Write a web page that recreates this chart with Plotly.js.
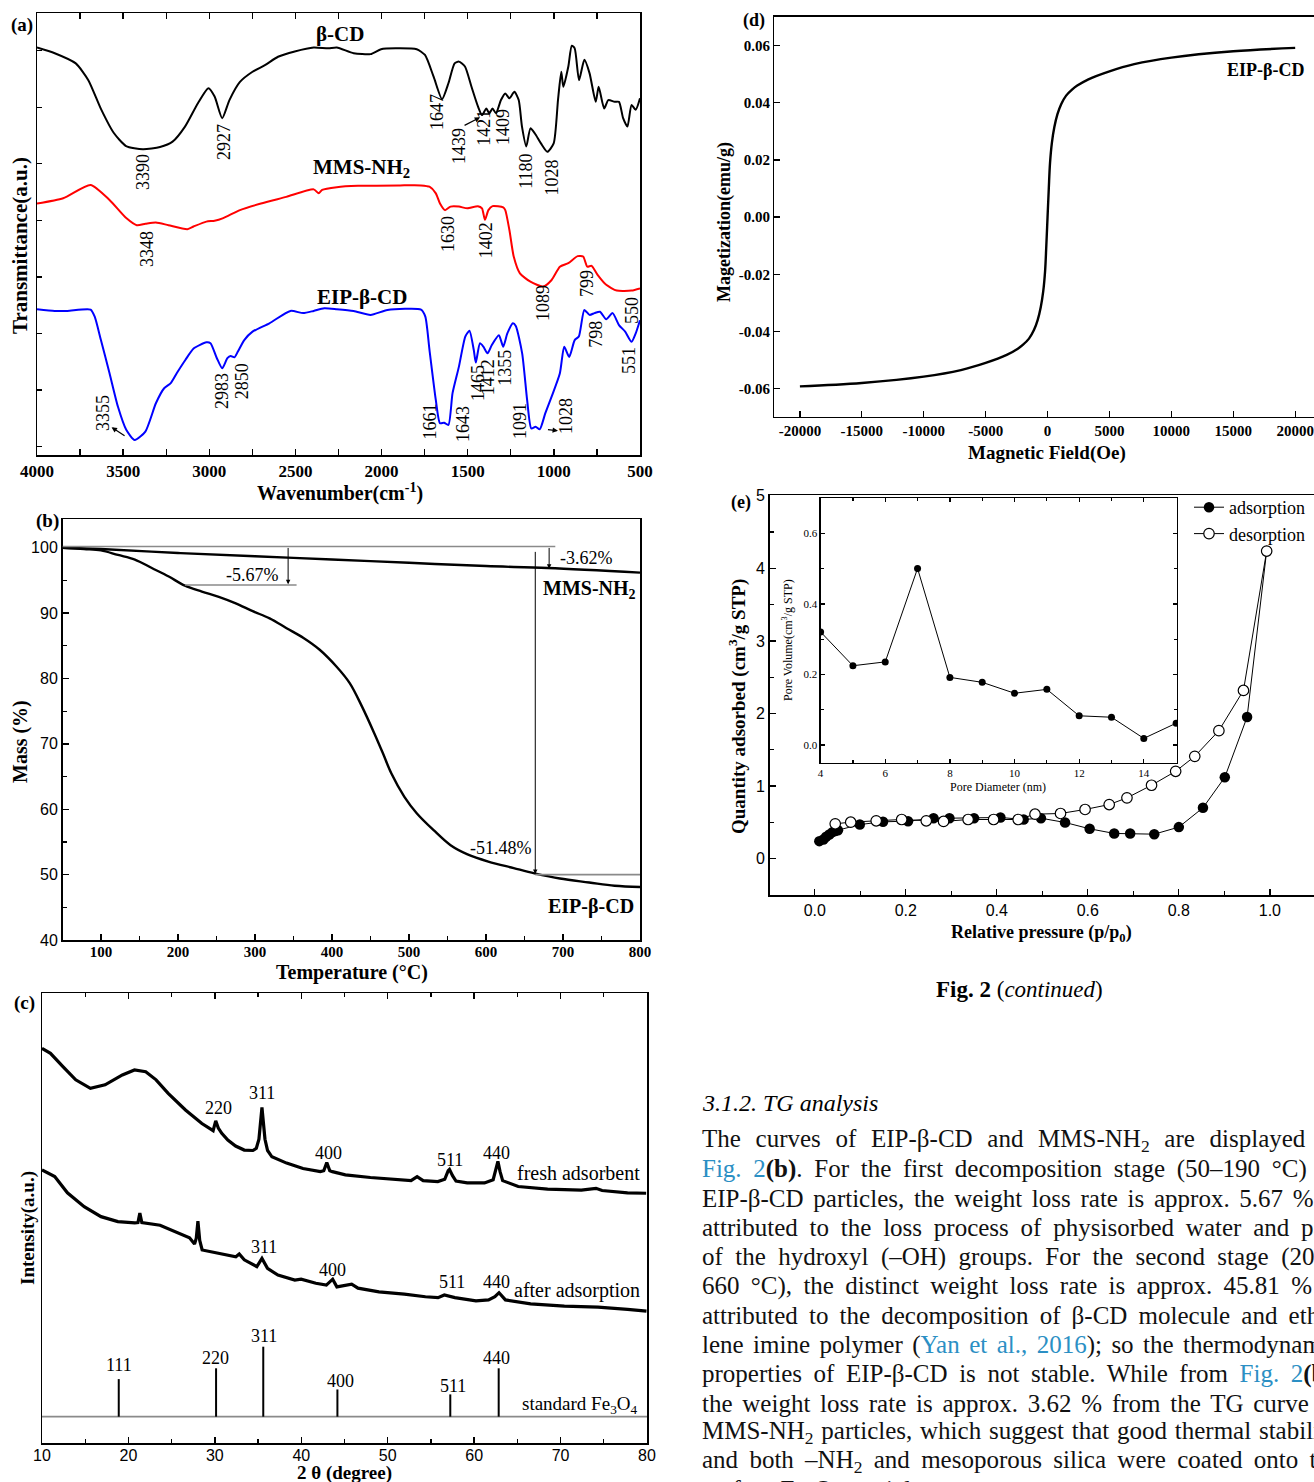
<!DOCTYPE html>
<html>
<head>
<meta charset="utf-8">
<script src="https://cdn.plot.ly/plotly-3.0.1.min.js"></script>
<style>
html,body{margin:0;padding:0;background:#fff;}
#fig{width:1314px;height:1482px;}
</style>
</head>
<body>
<div id="fig"></div>
<script>
// ---------- (a) FTIR spectra: wavenumber (cm-1) vs transmittance (a.u., offset traces) ----------
const ftirWnBCD = [4000,3897,3775,3702,3629,3555,3483,3385,3286,3213,3141,3066,3005,2969,2925,2883,2822,2749,2677,2601,2504,2394,2309,2260,2162,2064,2003,1918,1796,1748,1698,1649,1612,1576,1551,1516,1478,1440,1417,1392,1375,1356,1336,1307,1282,1258,1229,1204,1185,1160,1136,1111,1075,1038,1001,976,957,945,916,896,879,854,823,793,757,740,708,684,647,622,598,573,549,525,500];
const ftirTBCD  = [92.2,90.9,88.6,84.8,78.3,72.9,69.9,69.2,69.7,70.9,74.3,79.6,83.0,81.1,76.2,80.3,84.4,86.7,88.2,90.1,91.3,92.2,92.0,92.2,90.9,90.7,91.8,92.0,91.8,90.5,85.6,80.5,84.1,88.6,89.0,87.9,83.3,78.8,76.9,78.4,77.3,78.4,77.3,80.3,81.8,80.7,82.2,80.3,74.3,69.8,73.9,72.8,70.5,68.6,70.5,80.3,86.7,83.3,87.9,92.6,92.0,84.8,89.4,86.4,79.9,83.3,78.4,80.3,79.9,79.9,76.2,74.3,79.2,78.1,80.7];

const ftirWnMMS = [4000,3848,3689,3579,3482,3421,3371,3310,3237,3127,3091,3017,2969,2919,2822,2700,2553,2394,2365,2345,2260,2137,1893,1771,1722,1685,1661,1632,1600,1551,1502,1441,1417,1400,1380,1356,1294,1282,1258,1233,1197,1136,1062,1013,965,916,862,830,806,781,745,696,635,549,500];
const ftirTMMS  = [56.9,58.1,61.1,57.7,53.6,52.0,52.3,52.6,52.0,51.1,51.7,52.8,53.0,53.6,55.4,56.9,58.4,60.1,59.2,60.0,60.6,60.9,61.0,61.0,60.7,59.2,56.9,55.4,56.2,56.2,55.8,56.3,55.8,53.2,55.4,56.3,56.0,55.4,50.9,44.9,41.1,39.2,38.1,39.6,42.6,43.4,45.0,44.9,42.6,42.8,40.7,38.5,37.2,37.2,37.7];

const ftirWnEIP = [4000,3897,3824,3689,3665,3629,3579,3530,3482,3433,3371,3310,3262,3225,3189,3139,3091,3017,2993,2956,2925,2895,2876,2854,2834,2797,2749,2651,2529,2455,2394,2333,2260,2162,2064,1966,1771,1746,1722,1685,1661,1637,1612,1588,1551,1514,1490,1465,1453,1429,1409,1385,1360,1319,1294,1270,1238,1221,1184,1155,1131,1106,1082,1050,1013,965,940,911,879,855,823,793,764,732,696,659,622,586,549,525,500];
const ftirTEIP  = [33.0,32.6,32.6,32.9,31.3,26.0,18.5,10.9,5.7,3.4,5.3,11.7,15.1,16.2,18.5,21.5,24.1,25.5,25.3,21.9,19.6,21.9,22.4,22.1,23.4,26.0,27.9,29.8,32.6,32.1,32.6,33.2,33.0,32.6,31.7,32.8,32.9,31.3,23.8,12.4,7.2,7.3,6.8,14.0,20.0,26.8,28.1,23.8,20.9,25.3,24.5,23.0,24.9,27.1,24.5,27.5,29.8,29.2,23.0,12.4,6.0,6.4,5.8,9.4,13.2,18.5,24.5,22.2,26.0,26.8,32.8,31.7,32.1,32.4,30.7,32.1,29.4,27.9,25.6,27.5,30.5];

const ftirTicks = [4000,3500,3000,2500,2000,1500,1000,500];

// ---------- (b) TG curves: temperature (°C) vs mass (%) ----------
const tgTempEIP = [50,78,100,122,144,166,188,209,231,253,275,297,319,341,363,384,406,423,439,455,466,477,494,510,532,554,576,603,636,663,696,734,767,800];
const tgMassEIP = [100.0,99.8,99.6,98.9,98.2,96.9,95.6,94.2,93.3,92.5,91.5,90.3,89.2,87.7,86.2,84.4,81.8,79.3,75.7,71.6,68.6,65.5,61.9,59.4,56.8,54.5,53.1,52.0,51.0,50.2,49.4,48.8,48.3,48.1];
const tgTempMMS = [50,100,200,300,400,500,600,680,800];
const tgMassMMS = [100.0,99.8,99.2,98.7,98.2,97.7,97.2,96.9,96.2];
const tgLosses  = [-5.67,-3.62,-51.48];

// ---------- (c) XRD patterns: 2θ (degree) vs intensity (a.u., offset traces) ----------
const xrd2ThetaFresh = [10.0,10.98,12.45,13.9,15.6,17.3,19.3,20.7,22.0,23.2,24.6,26.6,28.5,29.5,29.8,30.1,30.4,30.8,31.5,32.4,33.4,34.4,34.8,35.1,35.3,35.45,35.6,35.8,36.1,36.6,38.3,40.2,42.2,42.6,42.95,43.3,43.6,45.1,48.0,51.0,52.7,53.4,54.1,55.8,56.6,57.0,57.15,57.5,57.9,59.2,61.2,62.2,62.5,62.75,63.0,63.3,65.1,68.5,72.4,74.1,74.8,77.75,79.9];
const xrdIntFresh    = [87.7,86.6,83.6,80.7,78.8,79.6,81.8,82.9,82.5,80.7,77.7,74.0,71.0,69.6,69.4,71.6,70.0,68.8,67.3,66.0,65.1,65.0,65.5,67.5,71.5,74.6,71.5,67.5,65.0,63.6,62.2,61.0,60.3,60.5,62.3,60.5,60.3,59.6,59.0,58.6,58.3,59.2,58.3,58.1,58.6,60.5,60.8,59.4,58.2,57.8,57.8,58.5,60.5,62.6,60.3,58.3,57.0,56.4,56.2,56.6,56.1,55.6,55.5];
const xrd2ThetaAfter = [10.0,11.47,12.94,14.88,16.83,18.78,20.73,21.1,21.32,21.55,23.66,25.6,27.07,27.65,27.85,28.04,28.25,28.53,30.49,32.43,32.82,33.4,34.86,35.45,36.09,37.3,39.25,39.98,41.69,42.9,43.63,44.12,45.83,46.56,48.99,51.92,54.36,55.82,56.55,57.77,60.21,61.67,62.4,62.88,63.62,66.54,70.44,74.34,77.75,79.94];
const xrdIntAfter    = [60.7,59.2,55.6,52.5,50.3,49.2,48.9,49.0,51.1,49.0,48.4,46.7,45.6,44.2,45.5,49.3,45.0,42.9,42.2,41.4,42.0,40.7,39.2,41.0,38.8,37.3,36.2,36.4,35.5,35.1,36.4,34.7,35.3,34.4,33.6,33.1,32.5,32.3,32.9,32.3,31.6,31.8,32.5,33.4,31.8,30.9,30.4,30.2,29.7,29.3];
const stdHKL      = ['111','220','311','400','511','440'];
const std2Theta   = [18.88,30.14,35.6,44.18,57.24,62.84];
const stdIntTop   = [14.2,16.6,21.4,11.9,10.8,16.6];
const stdBaseline = 5.85;

// ---------- (d) magnetization loop ----------
const magField  = [-20000,-15000,-10000,-7000,-5000,-3300,-2400,-2000,-1500,-1100,-800,-550,-350,-200,-100,0,100,200,350,550,800,1100,1500,2000,2400,3300,5000,7000,10000,15000,20000];
const magMoment = [-0.0592,-0.0580,-0.0558,-0.0535,-0.0510,-0.0482,-0.0460,-0.0447,-0.0425,-0.0395,-0.0360,-0.0315,-0.0260,-0.0190,-0.0100,0.0000,0.0100,0.0190,0.0260,0.0315,0.0360,0.0395,0.0425,0.0447,0.0460,0.0482,0.0510,0.0535,0.0558,0.0580,0.0592];
const magTicksX = [-20000,-15000,-10000,-5000,0,5000,10000,15000,20000];
const magTicksY = [-0.06,-0.04,-0.02,0.00,0.02,0.04,0.06];

// ---------- (e) N2 isotherm and pore size distribution ----------
const adsP = [0.010,0.019,0.025,0.032,0.039,0.045,0.051,0.099,0.150,0.205,0.261,0.296,0.350,0.408,0.459,0.497,0.550,0.604,0.658,0.693,0.746,0.800,0.853,0.901,0.950,0.993];
const adsQ = [0.242,0.265,0.302,0.334,0.366,0.380,0.393,0.471,0.508,0.517,0.558,0.558,0.558,0.568,0.540,0.558,0.499,0.412,0.348,0.348,0.338,0.435,0.701,1.122,1.952,4.238];
const desP = [0.993,0.942,0.888,0.835,0.793,0.740,0.686,0.647,0.594,0.540,0.484,0.447,0.393,0.337,0.283,0.245,0.191,0.135,0.079,0.045];
const desQ = [4.238,2.318,1.764,1.410,1.204,1.012,0.838,0.746,0.678,0.623,0.613,0.540,0.540,0.540,0.513,0.522,0.540,0.522,0.503,0.481];
const poreDiameter = [4,5,6,7,8,9,10,11,12,13,14,15];
const poreVolume   = [0.321,0.225,0.236,0.501,0.192,0.178,0.147,0.158,0.083,0.079,0.019,0.062];

// ---------- page geometry helpers (pixel -> paper fraction) ----------
const W = 1314, H = 1482;
const fx = x => x / W;
const fy = y => 1 - y / H;
const SERIF = '"Liberation Serif", "Times New Roman", Times, serif';
const SANS  = '"Liberation Sans", Arial, Helvetica, sans-serif';
const LINK  = '#2b8fc4';

function axis(o) {
  return Object.assign({
    showgrid: false, zeroline: false, showline: true, linecolor: '#000', linewidth: 1.5,
    ticks: 'inside', ticklen: 6, tickwidth: 1.3, tickcolor: '#000', automargin: false
  }, o);
}
const minor = (d, len) => ({dtick: d, ticks: 'inside', ticklen: len || 4, tickwidth: 1.2, tickcolor: '#000', showgrid: false});

// ---------- traces ----------
const traces = [];
const ln = (x, y, xa, ya, line) => ({
  type: 'scatter', mode: 'lines', x: x, y: y, xaxis: xa, yaxis: ya, showlegend: false, hoverinfo: 'skip', line: line
});

// (a)
traces.push(ln(ftirWnBCD, ftirTBCD, 'x', 'y', {color: '#000', width: 2, shape: 'spline', smoothing: 0.6}));
traces.push(ln(ftirWnMMS, ftirTMMS, 'x', 'y', {color: '#ff0000', width: 2, shape: 'spline', smoothing: 0.6}));
traces.push(ln(ftirWnEIP, ftirTEIP, 'x', 'y', {color: '#0000ff', width: 2, shape: 'spline', smoothing: 0.6}));

// (b)
traces.push(ln(tgTempMMS, tgMassMMS, 'x2', 'y2', {color: '#000', width: 2.4, shape: 'spline'}));
traces.push(ln(tgTempEIP, tgMassEIP, 'x2', 'y2', {color: '#000', width: 2.4, shape: 'spline'}));

// (c)
traces.push(ln(xrd2ThetaFresh, xrdIntFresh, 'x3', 'y3', {color: '#000', width: 3.2}));
traces.push(ln(xrd2ThetaAfter, xrdIntAfter, 'x3', 'y3', {color: '#000', width: 3.2}));
traces.push(ln([10, 80], [stdBaseline, stdBaseline], 'x3', 'y3', {color: '#8a8a8a', width: 1.6}));
const stickX = [], stickY = [];
std2Theta.forEach((t, i) => { stickX.push(t, t, null); stickY.push(stdBaseline, stdIntTop[i], null); });
traces.push(ln(stickX, stickY, 'x3', 'y3', {color: '#000', width: 2}));

// (d)
traces.push(ln(magField, magMoment, 'x4', 'y4', {color: '#000', width: 2.4, shape: 'spline', smoothing: 1}));

// (e)
traces.push({type: 'scatter', mode: 'lines+markers', x: adsP, y: adsQ, xaxis: 'x5', yaxis: 'y5', name: 'adsorption',
  hoverinfo: 'skip', line: {color: '#000', width: 1}, marker: {symbol: 'circle', size: 10.5, color: '#000'}});
traces.push({type: 'scatter', mode: 'lines+markers', x: desP, y: desQ, xaxis: 'x5', yaxis: 'y5', name: 'desorption',
  hoverinfo: 'skip', line: {color: '#000', width: 1}, marker: {symbol: 'circle', size: 10.5, color: '#fff', line: {color: '#000', width: 1.2}}});
traces.push({type: 'scatter', mode: 'lines+markers', x: poreDiameter, y: poreVolume, xaxis: 'x6', yaxis: 'y6', showlegend: false,
  hoverinfo: 'skip', line: {color: '#000', width: 1}, marker: {symbol: 'circle', size: 7, color: '#000'}});

// ---------- annotations ----------
const ann = [];
function txt(text, x, y, xref, yref, o) {
  ann.push(Object.assign({text: text, x: x, y: y, xref: xref, yref: yref, showarrow: false,
    font: {family: SERIF, size: 18, color: '#000'}, xanchor: 'center', yanchor: 'middle'}, o || {}));
  return ann.length - 1;
}
function arrow(x, y, ax, ay, xref, yref, o) {
  ann.push(Object.assign({text: '', x: x, y: y, ax: ax, ay: ay, xref: xref, yref: yref, axref: xref, ayref: yref,
    showarrow: true, arrowhead: 2, arrowsize: 0.9, arrowwidth: 1.2, arrowcolor: '#000', standoff: 0, startstandoff: 0}, o || {}));
}
const P = (t, x, y, o) => txt(t, fx(x), fy(y), 'paper', 'paper', o);
const F = (size, fam) => ({family: fam || SERIF, size: size, color: '#000'});

// (a) band labels, rotated
const bandLabels = [
  ['3390', 3385, 64.0], ['2927', 2915, 70.8], ['1647', 1678, 77.6], ['1439', 1551, 69.9],
  ['1421', 1406, 74.0], ['1409', 1295, 74.2], ['1180', 1162, 64.3], ['1028', 1013, 62.7],
  ['3348', 3362, 46.6], ['1630', 1615, 50.0], ['1402', 1394, 48.6], ['1089', 1063, 34.4],
  ['799', 808, 38.9], ['550', 547, 32.8],
  ['3355', 3617, 9.5], ['2983', 2926, 14.5], ['2850', 2810, 16.7], ['1661', 1722, 7.7],
  ['1643', 1527, 7.0], ['1465', 1440, 16.3], ['1412', 1382, 17.6], ['1355', 1284, 19.7],
  ['1091', 1197, 7.7], ['1028', 930, 8.8], ['798', 756, 27.4], ['551', 564, 21.5]
];
bandLabels.forEach(b => txt(b[0], b[1], b[2], 'x', 'y', {textangle: -90, font: F(18)}));
arrow(1428, 76.4, 1527, 74.4, 'x', 'y');
arrow(3567, 6.3, 3483, 4.1, 'x', 'y');
arrow(976, 5.5, 1043, 5.8, 'x', 'y');
txt('<b>β-CD</b>', 2241, 95.2, 'x', 'y', {font: F(21)});
txt('<b>MMS-NH<sub>2</sub></b>', 2114, 64.9, 'x', 'y', {font: F(21)});
txt('<b>EIP-β-CD</b>', 2114, 35.7, 'x', 'y', {font: F(21)});
P('<b>(a)</b>', 22, 25, {font: F(19)});
P('<b>Transmittance(a.u.)</b>', 20, 246, {textangle: -90, font: F(21)});
P('<b>Wavenumber(cm<sup>-1</sup>)</b>', 340, 492, {font: F(20)});

// (b) loss markers
arrow(343, 94.4, 343, 100.2, 'x2', 'y2', {arrowwidth: 1});
arrow(682, 96.8, 682, 100.2, 'x2', 'y2', {arrowwidth: 1});
arrow(664, 50.1, 664, 99.6, 'x2', 'y2', {arrowwidth: 1});
txt(tgLosses[0].toFixed(2) + '%', 297, 95.9, 'x2', 'y2');
txt(tgLosses[1].toFixed(2) + '%', 730, 98.4, 'x2', 'y2');
txt(tgLosses[2].toFixed(2) + '%', 619, 54.0, 'x2', 'y2');
txt('<b>MMS-NH<sub>2</sub></b>', 735, 93.6, 'x2', 'y2', {font: F(20)});
txt('<b>EIP-β-CD</b>', 737, 45.1, 'x2', 'y2', {font: F(20)});
P('<b>(b)</b>', 47, 521, {font: F(19)});
P('<b>Mass (%)</b>', 21, 742, {textangle: -90, font: F(20)});
P('<b>Temperature (°C)</b>', 352, 972, {font: F(20)});

// (c) reflections
const freshLabels = [['220', 30.4, 74.4], ['311', 35.45, 77.8], ['400', 43.15, 64.4], ['511', 57.2, 62.9], ['440', 62.6, 64.4]];
const afterLabels = [['311', 35.7, 43.6], ['400', 43.6, 38.4], ['511', 57.4, 35.8], ['440', 62.6, 35.8]];
const stdLabelPos = [[18.9, 17.3], [30.1, 18.8], [35.7, 23.8], [44.5, 13.8], [57.5, 12.7], [62.6, 18.8]];
freshLabels.concat(afterLabels).forEach(l => txt(l[0], l[1], l[2], 'x3', 'y3'));
stdHKL.forEach((h, i) => txt(h, stdLabelPos[i][0], stdLabelPos[i][1], 'x3', 'y3'));
txt('fresh adsorbent', 79.4, 60.0, 'x3', 'y3', {xanchor: 'right', font: F(20)});
txt('after adsorption', 79.4, 34.0, 'x3', 'y3', {xanchor: 'right', font: F(20)});
txt('standard Fe<sub>3</sub>O<sub>4</sub>', 79.2, 8.4, 'x3', 'y3', {xanchor: 'right', font: F(19)});
P('<b>(c)</b>', 24, 1003, {font: F(19)});
P('<b>Intensity(a.u.)</b>', 28, 1228, {textangle: -90, font: F(19)});
P('<b>2 θ (degree)</b>', 344, 1473, {font: F(19)});

// (d)
txt('<b>EIP-β-CD</b>', 17641, 0.0513, 'x4', 'y4', {font: F(18)});
P('<b>(d)</b>', 754, 21, {font: F(18)});
P('<b>Magetization(emu/g)</b>', 725, 222, {textangle: -90, font: F(18)});
P('<b>Magnetic Field(Oe)</b>', 1047, 453, {font: F(19)});

// (e)
P('<b>(e)</b>', 741, 503, {font: F(18)});
P('<b>Quantity adsorbed (cm<sup>3</sup>/g STP)</b>', 737, 707, {textangle: -90, font: F(19)});
P('<b>Relative pressure (p/p<sub>0</sub>)</b>', 1041, 934, {font: F(18)});
P('Pore Volume(cm<sup>3</sup>/g STP)', 787, 640, {textangle: -90, font: F(12)});
P('Pore Diameter (nm)', 998, 787, {font: F(12)});
P('<b>Fig. 2</b> (<i>continued</i>)', 1019, 989, {font: F(23)});

// body text column
const bodyLines = [
  'The curves of EIP-β-CD and MMS-NH<sub>2</sub> are displayed in',
  '<span style="color:' + LINK + '">Fig. 2</span><b>(b)</b>. For the first decomposition stage (50–190 °C) of',
  'EIP-β-CD particles, the weight loss rate is approx. 5.67 % is',
  'attributed to the loss process of physisorbed water and part',
  'of the hydroxyl (–OH) groups. For the second stage (200–',
  '660 °C), the distinct weight loss rate is approx. 45.81 % is',
  'attributed to the decomposition of β-CD molecule and ethy-',
  'lene imine polymer (<span style="color:' + LINK + '">Yan et al., 2016</span>); so the thermodynamic',
  'properties of EIP-β-CD is not stable. While from <span style="color:' + LINK + '">Fig. 2</span><b>(b)</b>,',
  'the weight loss rate is approx. 3.62 % from the TG curve of',
  'MMS-NH<sub>2</sub> particles, which suggest that good thermal stability',
  'and both –NH<sub>2</sub> and mesoporous silica were coated onto the',
  'surface Fe<sub>3</sub>O<sub>4</sub> particles.'
];
P('<i>3.1.2. TG analysis</i>', 700, 1103, {xanchor: 'left', align: 'left', font: F(24)});
const bodyIdx = bodyLines.map((l, i) => P(l, 700, 1140 + i * 29.25, {xanchor: 'left', align: 'left', font: {family: SERIF, size: 25, color: '#111'}}));
const COLUMN_LEFT = 700, COLUMN_RIGHT = 1338;

// ---------- shapes ----------
const shapes = [
  {type: 'line', xref: 'x2', yref: 'y2', x0: 50, x1: 690, y0: 100.2, y1: 100.2, line: {color: '#8a8a8a', width: 1.6}},
  {type: 'line', xref: 'x2', yref: 'y2', x0: 209, x1: 354, y0: 94.3, y1: 94.3, line: {color: '#8a8a8a', width: 1.6}},
  {type: 'line', xref: 'x2', yref: 'y2', x0: 664, x1: 800, y0: 50.0, y1: 50.0, line: {color: '#8a8a8a', width: 1.6}}
];

// ---------- layout ----------
const boldSerif = s => ({family: SERIF, size: s, color: '#000', weight: 'bold'});
const layout = {
  width: W, height: H, margin: {l: 0, r: 0, t: 0, b: 0},
  paper_bgcolor: '#fff', plot_bgcolor: '#fff', showlegend: true,
  font: {family: SERIF, color: '#000'},
  legend: {x: fx(1189), y: fy(489), xanchor: 'left', yanchor: 'top', bgcolor: 'rgba(0,0,0,0)',
           font: {family: SERIF, size: 18, color: '#000'}, tracegroupgap: 0},
  xaxis: axis({domain: [fx(37), fx(640)], anchor: 'y', range: [4000, 500], tickvals: ftirTicks,
    ticktext: ftirTicks.map(String), tickfont: boldSerif(17), mirror: 'ticks', minor: minor(250, 6)}),
  yaxis: axis({domain: [fy(455), fy(13)], anchor: 'x', range: [0, 100], showticklabels: false,
    tick0: 1.9, dtick: 12.8, ticklen: 5, mirror: true}),

  xaxis2: axis({domain: [fx(62.5), fx(640)], anchor: 'y2', range: [50, 800], tick0: 0, dtick: 100,
    tickfont: boldSerif(15), mirror: true, minor: minor(50, 4), ticklabelstandoff: -3}),
  yaxis2: axis({domain: [fy(940), fy(519)], anchor: 'x2', range: [40, 104.4], tick0: 0, dtick: 10,
    tickfont: F(16, SANS), mirror: true, minor: minor(5, 4)}),

  xaxis3: axis({domain: [fx(42), fx(647)], anchor: 'y3', range: [10, 80], tick0: 0, dtick: 10,
    tickfont: F(16, SANS), mirror: 'ticks', minor: minor(5, 4), ticklabelstandoff: -3}),
  yaxis3: axis({domain: [fy(1443), fy(993)], anchor: 'x3', range: [0, 100], showticklabels: false,
    ticks: '', mirror: true}),

  xaxis4: axis({domain: [fx(774.4), 1], anchor: 'y4', range: [-22060, 21519], tickvals: magTicksX,
    ticktext: magTicksX.map(String), tickfont: boldSerif(15), mirror: true}),
  yaxis4: axis({domain: [fy(416.7), fy(16.7)], anchor: 'x4', range: [-0.0698, 0.0701], tickvals: magTicksY,
    ticktext: magTicksY.map(v => v.toFixed(2)), tickfont: boldSerif(15), mirror: false}),

  xaxis5: axis({domain: [fx(769.7), 1], anchor: 'y5', range: [-0.099, 1.097], tickvals: [0, 0.2, 0.4, 0.6, 0.8, 1.0],
    ticktext: ['0.0', '0.2', '0.4', '0.6', '0.8', '1.0'], tickfont: F(16, SANS), mirror: true, minor: minor(0.1, 4)}),
  yaxis5: axis({domain: [fy(895), fy(495)], anchor: 'x5', range: [-0.5, 5.01], tick0: 0, dtick: 1,
    tickfont: F(16, SANS), mirror: false, minor: minor(0.5, 4)}),

  xaxis6: axis({domain: [fx(820.6), fx(1177.1)], anchor: 'y6', range: [4, 15.03], tick0: 0, dtick: 2,
    tickfont: F(11), mirror: 'ticks', ticklen: 4, linewidth: 1.2, minor: minor(1, 3)}),
  yaxis6: axis({domain: [fy(762.7), fy(498.3)], anchor: 'x6', range: [-0.05, 0.7], tickvals: [0, 0.2, 0.4, 0.6],
    ticktext: ['0.0', '0.2', '0.4', '0.6'], tickfont: F(11), mirror: 'ticks', ticklen: 4, linewidth: 1.2, minor: minor(0.1, 3)}),

  annotations: ann,
  shapes: shapes
};

// Justify the body-text lines (all but the last) to the column width by widening word gaps.
function justifyBody(gd) {
  bodyIdx.slice(0, -1).forEach(idx => {
    const t = gd.querySelector('g.annotation[data-index="' + idx + '"] text.annotation-text');
    if (!t) return;
    const w0 = t.getBBox().width;
    const gaps = (t.textContent.match(/ /g) || []).length;
    const extra = (COLUMN_RIGHT - COLUMN_LEFT) - w0;
    if (gaps > 0 && extra > 0) t.style.wordSpacing = (extra / gaps).toFixed(2) + 'px';
  });
}

Plotly.newPlot('fig', traces, layout, {staticPlot: true, displayModeBar: false}).then(justifyBody);
</script>
</body>
</html>
